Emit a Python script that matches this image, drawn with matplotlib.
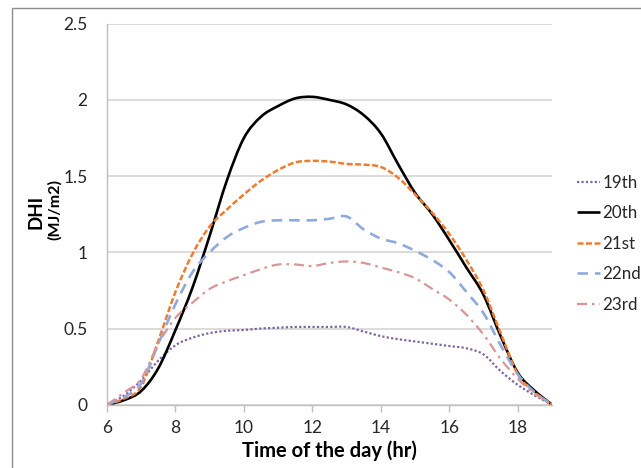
import numpy as np
import matplotlib
matplotlib.use("Agg")
import matplotlib.pyplot as plt
from matplotlib.path import Path
from matplotlib.patches import PathPatch, Rectangle
from matplotlib.lines import Line2D

plt.rcParams['font.family'] = ['Lato', 'DejaVu Sans']

hours = [6, 6.5, 7, 7.5, 8, 8.5, 9, 9.5, 10, 10.5, 11, 11.5, 12, 12.5,
         13, 13.5, 14, 14.5, 15, 15.5, 16, 16.5, 17, 17.5, 18, 18.5, 19]

dhi_19th = [0, 0.06, 0.16, 0.29, 0.39, 0.44, 0.47, 0.485, 0.49, 0.50, 0.505, 0.51, 0.51, 0.51,
            0.51, 0.48, 0.45, 0.43, 0.415, 0.40, 0.385, 0.37, 0.33, 0.22, 0.13, 0.06, 0]
dhi_20th = [0, 0.03, 0.09, 0.24, 0.49, 0.77, 1.11, 1.47, 1.75, 1.89, 1.96, 2.01, 2.02, 2.0,
            1.97, 1.90, 1.78, 1.58, 1.39, 1.25, 1.08, 0.90, 0.72, 0.45, 0.21, 0.09, 0]
dhi_21st = [0, 0.04, 0.12, 0.42, 0.74, 0.99, 1.17, 1.28, 1.38, 1.47, 1.54, 1.59, 1.60, 1.595,
            1.58, 1.575, 1.56, 1.49, 1.38, 1.26, 1.12, 0.95, 0.75, 0.47, 0.20, 0.08, 0]
dhi_22nd = [0, 0.05, 0.14, 0.40, 0.66, 0.87, 1.0, 1.10, 1.16, 1.20, 1.21, 1.21, 1.21, 1.22,
            1.235, 1.15, 1.09, 1.06, 1.01, 0.95, 0.87, 0.74, 0.60, 0.39, 0.20, 0.08, 0]
dhi_23rd = [0, 0.08, 0.17, 0.40, 0.57, 0.67, 0.76, 0.81, 0.85, 0.89, 0.92, 0.92, 0.91, 0.93,
            0.94, 0.93, 0.90, 0.87, 0.83, 0.76, 0.69, 0.59, 0.46, 0.30, 0.17, 0.07, 0]

labels = ['19th', '20th', '21st', '22nd', '23rd']
series = [dhi_19th, dhi_20th, dhi_21st, dhi_22nd, dhi_23rd]
styles = [
    dict(color='#8064A2', lw=1.6, ls=(0, (1, 1)), cap='butt'),
    dict(color='#000000', lw=1.9, ls='-', cap='round'),
    dict(color='#ED7D31', lw=1.8, ls=(0, (2.4, 1.0)), cap='butt'),
    dict(color='#8FAADC', lw=1.9, ls=(0, (4.0, 2.6)), cap='butt'),
    dict(color='#D99694', lw=1.6, ls=(0, (4.5, 2.2, 1.2, 2.2)), cap='butt'),
]


def smooth_path(x, y):
    p = np.column_stack([x, y]).astype(float)
    n = len(p)
    verts = [p[0]]
    codes = [Path.MOVETO]
    for i in range(n - 1):
        p0 = p[i - 1] if i > 0 else p[i]
        p1 = p[i]
        p2 = p[i + 1]
        p3 = p[i + 2] if i + 2 < n else p[i + 1]
        c1 = p1 + (p2 - p0) / 6.0
        c2 = p2 - (p3 - p1) / 6.0
        verts += [c1, c2, p2]
        codes += [Path.CURVE4] * 3
    return Path(verts, codes)


fig = plt.figure(figsize=(6.41, 4.68), dpi=100)
ax = fig.add_axes([107 / 641, 1 - 404.7 / 468, 445 / 641, 381 / 468])

handles = []
for lab, ys, st in zip(labels, series, styles):
    patch = PathPatch(smooth_path(hours, ys), fill=False, edgecolor=st['color'],
                      lw=st['lw'], linestyle=st['ls'], capstyle=st['cap'],
                      joinstyle='round', zorder=3)
    ax.add_patch(patch)
    handles.append(Line2D([], [], color=st['color'], lw=st['lw'], linestyle=st['ls'],
                          dash_capstyle=st['cap'], solid_capstyle='butt'))

ax.set_xlim(6, 19)
ax.set_ylim(0, 2.5)
ax.set_xticks([6, 8, 10, 12, 14, 16, 18])
ax.set_yticks([0, 0.5, 1, 1.5, 2, 2.5])
ax.set_yticklabels(['0', '0.5', '1', '1.5', '2', '2.5'])
ax.yaxis.grid(True, color='#D9D9D9', lw=1.3)
ax.set_axisbelow(True)
for s in ['top', 'right']:
    ax.spines[s].set_visible(False)
for s in ['left', 'bottom']:
    ax.spines[s].set_color('#BFBFBF')
    ax.spines[s].set_linewidth(1.0)
ax.tick_params(axis='x', direction='out', length=5, color='#BFBFBF', width=1,
               labelsize=12.5, labelcolor='#262626', pad=6)
ax.tick_params(axis='y', length=0, labelsize=12.5, labelcolor='#262626', pad=14)

ax.set_xlabel('Time of the day (hr)', fontsize=14.5, fontweight='bold', color='#000000', labelpad=3)

fig.text(36 / 641, 1 - 212 / 468, 'DHI', rotation=90, fontsize=13.5, fontweight='bold',
         ha='center', va='center')
fig.text(55 / 641, 1 - 210 / 468, '(MJ/m2)', rotation=90, fontsize=11.5, fontweight='bold',
         ha='center', va='center')

leg = fig.legend(handles, labels, loc='upper left', bbox_to_anchor=(577 / 641, 1 - 175 / 468),
                 frameon=False, fontsize=12.2, handlelength=1.35, handletextpad=0.15,
                 labelspacing=0.85, borderaxespad=0, borderpad=0)
for t in leg.get_texts():
    t.set_color('#262626')

fig.add_artist(Rectangle((12 / 641, -0.1), 1.2, 1 - 8 / 468 + 0.1, transform=fig.transFigure,
                         fill=False, edgecolor='#8C8C8C', lw=1.0))

fig.savefig('out.png', dpi=100)
